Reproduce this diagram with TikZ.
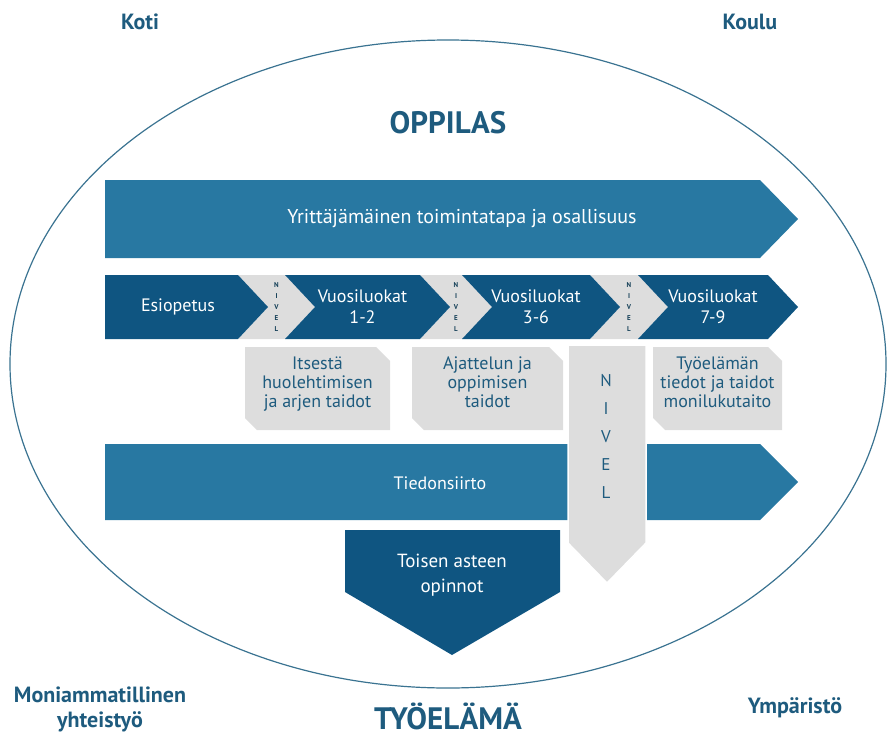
\documentclass[tikz,border=0pt]{standalone}
\usepackage{fontspec}
\setmainfont{PT Sans}

\definecolor{tummansininen}{HTML}{0F5581}
\definecolor{sininen}{HTML}{2878A2}
\definecolor{harmaa}{HTML}{DDDDDD}
\definecolor{tekstisini}{HTML}{1E5B7E}
\definecolor{reunasini}{HTML}{3A7391}

\tikzset{
  otsikko/.style={text=tekstisini,align=center,font=\bfseries\fontsize{22}{25}\selectfont},
  isootsikko/.style={text=tekstisini,font=\bfseries\fontsize{31}{34}\selectfont},
  valko/.style={text=white,align=center,font=\fontsize{18}{21}\selectfont},
  laatikko/.style={text=tekstisini,align=center,font=\fontsize{18}{19}\selectfont},
  pikkunivel/.style={text=tekstisini!70!black,align=center,font=\bfseries\fontsize{7}{11}\selectfont}
}

\begin{document}
\begin{tikzpicture}[x=1pt,y=-1pt]
\useasboundingbox (0,0) rectangle (896,736);

\draw[reunasini,line width=1.2pt] (448,364) ellipse (438 and 324);   % ellipsi

\node[otsikko] (koti) at (140,22) {Koti};
\node[otsikko] (koulu) at (750,22) {Koulu};
\node[isootsikko] (oppilas) at (448,123) {OPPILAS};

\fill[sininen] (105,180) -- (760,180) -- (798,219) -- (760,258) -- (105,258) -- cycle;
\node[valko,font=\fontsize{20}{22}\selectfont] (yrittajyys) at (462,219) {Yrittäjämäinen toimintatapa ja osallisuus};

\foreach \p/\n in {238/285,420/462,590/638}
{
	\fill[harmaa] (\p,275) -- (\n,275) -- (\n+30,307) -- (\n,339) -- (\p,339) -- (\p+30,307) -- cycle;
	\node[pikkunivel] (nivel\p) at ({(\p+30+\n)/2},307) {N\\I\\V\\E\\L};
};                               % pienet nivelet

\fill[tummansininen] (105,275) -- (238,275) -- (268,307) -- (238,339) -- (105,339) -- cycle;
\node[valko] (esiopetus) at (178,307) {Esiopetus};

\foreach \a/\b/\nimi/\teksti in {285/420/luokat12/{Vuosiluokat\\1-2},462/590/luokat36/{Vuosiluokat\\3-6},638/768/luokat79/{Vuosiluokat\\7-9}}
{
	\fill[tummansininen] (\a,275) -- (\b,275) -- (\b+30,307) -- (\b,339) -- (\a,339) -- (\a+30,307) -- cycle;
	\node[valko] (\nimi) at ({(\a+\b)/2+10},307) {\teksti};
};                               % vuosiluokat

\foreach \a/\b/\nimi/\teksti in {245/390/taito1/{Itsestä\\huolehtimisen\\ja arjen taidot},412/563/taito2/{Ajattelun ja\\oppimisen\\taidot},653/782/taito3/{Työelämän\\tiedot ja taidot\\monilukutaito}}
{
	\fill[harmaa] (\a,347) -- (\b-14,347) -- (\b,361) -- (\b,430) -- (\a+12,430) -- (\a,418) -- cycle;
	\node[laatikko,anchor=north] (\nimi) at ({(\a+\b)/2},353) {\teksti};
};                               % taidot

\fill[sininen] (105,444) -- (760,444) -- (798,482) -- (760,520) -- (105,520) -- cycle;
\node[valko] (tiedonsiirto) at (440,483) {Tiedonsiirto};

\filldraw[fill=harmaa,draw=white,line width=1.5pt] (568,345) -- (646,345) -- (646,543) -- (607,583) -- (568,543) -- cycle;
\node[text=tekstisini,align=center,font=\fontsize{17}{28}\selectfont] (nivel) at (606,436) {N\\I\\V\\E\\L};

\fill[tummansininen] (345,530) -- (560,530) -- (560,592) -- (452,655) -- (345,592) -- cycle;
\node[valko,font=\fontsize{19}{25}\selectfont] (toinenaste) at (452,575) {Toisen asteen\\opinnot};

\node[otsikko] (moniammatillinen) at (100,709) {Moniammatillinen\\yhteistyö};
\node[isootsikko] (tyoelama) at (448,716) {TYÖELÄMÄ};
\node[otsikko] (ymparisto) at (795,708) {Ympäristö};
\end{tikzpicture}
\end{document}
